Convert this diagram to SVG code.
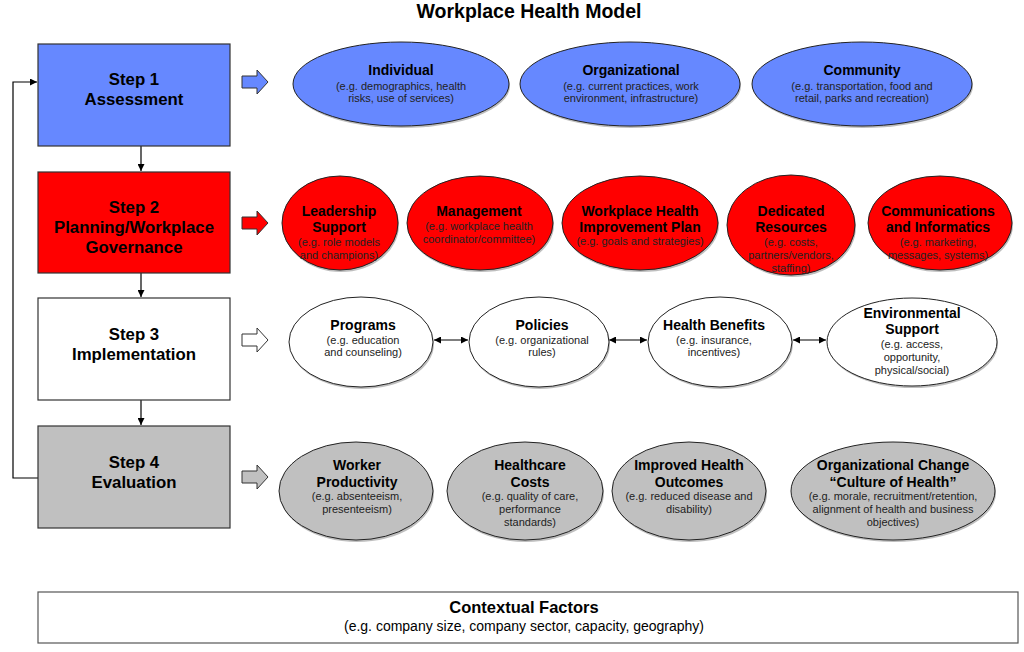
<svg xmlns="http://www.w3.org/2000/svg" width="1024" height="652" viewBox="0 0 1024 652">
<defs>
<marker id="ah" viewBox="0 0 10 10" refX="10" refY="5" markerWidth="7" markerHeight="7" orient="auto-start-reverse" markerUnits="userSpaceOnUse"><path d="M0,0 L10,5 L0,10 Z" fill="#000"/></marker>
</defs>
<style>
text{font-family:"Liberation Sans",Arial,sans-serif;text-anchor:middle;fill:#000}
.t{font-weight:bold;font-size:14px}
.s{font-size:11px;fill:#222}
.st{font-weight:bold;font-size:16.8px}
.box{stroke:#333;stroke-width:1.2}
.el{stroke:#222;stroke-width:1}
.sh{fill:#888;opacity:0.55}
.blue{fill:#6688FF}
.red{fill:#FF0000}
.white{fill:#FFFFFF}
.gray{fill:#C0C0C0}
.ba{stroke:#333;stroke-width:1}
.ln{stroke:#000;stroke-width:1.2;fill:none}
</style>
<rect width="1024" height="652" fill="#fff"/>
<text x="529" y="18" style="font-weight:bold;font-size:19.5px">Workplace Health Model</text>

<g id="connectors">
<line class="ln" x1="141" y1="146" x2="141" y2="171" marker-end="url(#ah)"/>
<line class="ln" x1="141" y1="273" x2="141" y2="297" marker-end="url(#ah)"/>
<line class="ln" x1="141" y1="400" x2="141" y2="425" marker-end="url(#ah)"/>
<polyline class="ln" points="38,478 13,478 13,82 37,82" marker-end="url(#ah)"/>
<line class="ln" x1="434" y1="340" x2="468" y2="340" marker-start="url(#ah)" marker-end="url(#ah)"/>
<line class="ln" x1="609" y1="340" x2="647" y2="340" marker-start="url(#ah)" marker-end="url(#ah)"/>
<line class="ln" x1="793" y1="340" x2="826" y2="340" marker-start="url(#ah)" marker-end="url(#ah)"/>
<path class="ba blue" d="M242,76 H257 V70 L268,82 L257,94 V88 H242 Z"/>
<path class="ba red" d="M242,217 H257 V211 L268,223 L257,235 V229 H242 Z"/>
<path class="ba white" d="M242,334 H257 V328 L268,340 L257,352 V346 H242 Z"/>
<path class="ba gray" d="M242,471 H257 V465 L268,477 L257,489 V483 H242 Z"/>
</g>

<g id="step1"><rect class="box blue" x="38" y="44" width="192" height="102"/>
<text class="st" x="134" y="85">Step 1</text><text class="st" x="134" y="105">Assessment</text></g>
<g id="step2"><rect class="box red" x="38" y="172" width="192" height="101"/>
<text class="st" x="134" y="213">Step 2</text><text class="st" x="134" y="233">Planning/Workplace</text><text class="st" x="134" y="253">Governance</text></g>
<g id="step3"><rect class="box white" x="38" y="298" width="192" height="102"/>
<text class="st" x="134" y="340">Step 3</text><text class="st" x="134" y="360">Implementation</text></g>
<g id="step4"><rect class="box gray" x="38" y="426" width="192" height="102"/>
<text class="st" x="134" y="468">Step 4</text><text class="st" x="134" y="488">Evaluation</text></g>

<g id="individual"><ellipse class="sh" cx="402" cy="86" rx="108" ry="42"/><ellipse class="el blue" cx="401" cy="84" rx="108" ry="42"/>
<text class="t" x="401" y="75">Individual</text><text class="s" x="401" y="90">(e.g. demographics, health</text><text class="s" x="401" y="102">risks, use of services)</text></g>
<g id="organizational"><ellipse class="sh" cx="631" cy="86" rx="110" ry="42"/><ellipse class="el blue" cx="630" cy="84" rx="110" ry="42"/>
<text class="t" x="631" y="75">Organizational</text><text class="s" x="631" y="90">(e.g. current practices, work</text><text class="s" x="631" y="102">environment, infrastructure)</text></g>
<g id="community"><ellipse class="sh" cx="863" cy="86" rx="110" ry="42"/><ellipse class="el blue" cx="862" cy="84" rx="110" ry="42"/>
<text class="t" x="862" y="75">Community</text><text class="s" x="862" y="90">(e.g. transportation, food and</text><text class="s" x="862" y="102">retail, parks and recreation)</text></g>

<g id="leadership"><ellipse class="sh" cx="341" cy="225" rx="58" ry="47"/><ellipse class="el red" cx="340" cy="223" rx="58" ry="47"/>
<text class="t" x="339" y="216">Leadership</text><text class="t" x="339" y="232">Support</text><text class="s" x="339" y="246">(e.g. role models</text><text class="s" x="339" y="259">and champions)</text></g>
<g id="management"><ellipse class="sh" cx="481" cy="225" rx="73" ry="47"/><ellipse class="el red" cx="480" cy="223" rx="73" ry="47"/>
<text class="t" x="479" y="216">Management</text><text class="s" x="479" y="230">(e.g. workplace health</text><text class="s" x="479" y="243">coordinator/committee)</text></g>
<g id="improvementplan"><ellipse class="sh" cx="641" cy="225" rx="78" ry="47"/><ellipse class="el red" cx="640" cy="223" rx="78" ry="47"/>
<text class="t" x="640" y="216">Workplace Health</text><text class="t" x="640" y="232">Improvement Plan</text><text class="s" x="640" y="245">(e.g. goals and strategies)</text></g>
<g id="resources"><ellipse class="sh" cx="792" cy="227" rx="64" ry="50"/><ellipse class="el red" cx="791" cy="225" rx="64" ry="50"/>
<text class="t" x="791" y="216">Dedicated</text><text class="t" x="791" y="232">Resources</text><text class="s" x="791" y="246">(e.g. costs,</text><text class="s" x="791" y="259">partners/vendors,</text><text class="s" x="791" y="272">staffing)</text></g>
<g id="communications"><ellipse class="sh" cx="941" cy="225" rx="72" ry="47"/><ellipse class="el red" cx="940" cy="223" rx="72" ry="47"/>
<text class="t" x="938" y="216">Communications</text><text class="t" x="938" y="232">and Informatics</text><text class="s" x="938" y="246">(e.g. marketing,</text><text class="s" x="938" y="259">messages, systems)</text></g>

<g id="programs"><ellipse class="sh" cx="362" cy="344" rx="72" ry="45"/><ellipse class="el white" cx="361" cy="342" rx="72" ry="45"/>
<text class="t" x="363" y="330">Programs</text><text class="s" x="363" y="344">(e.g. education</text><text class="s" x="363" y="356">and counseling)</text></g>
<g id="policies"><ellipse class="sh" cx="540" cy="344" rx="70" ry="45"/><ellipse class="el white" cx="539" cy="342" rx="70" ry="45"/>
<text class="t" x="542" y="330">Policies</text><text class="s" x="542" y="344">(e.g. organizational</text><text class="s" x="542" y="356">rules)</text></g>
<g id="benefits"><ellipse class="sh" cx="721" cy="344" rx="72" ry="45"/><ellipse class="el white" cx="720" cy="342" rx="72" ry="45"/>
<text class="t" x="714" y="330">Health Benefits</text><text class="s" x="714" y="344">(e.g. insurance,</text><text class="s" x="714" y="356">incentives)</text></g>
<g id="environmental"><ellipse class="sh" cx="913" cy="344" rx="85" ry="44"/><ellipse class="el white" cx="912" cy="342" rx="85" ry="44"/>
<text class="t" x="912" y="318">Environmental</text><text class="t" x="912" y="334">Support</text><text class="s" x="912" y="348">(e.g. access,</text><text class="s" x="912" y="361">opportunity,</text><text class="s" x="912" y="374">physical/social)</text></g>

<g id="productivity"><ellipse class="sh" cx="357" cy="493" rx="77" ry="49"/><ellipse class="el gray" cx="356" cy="491" rx="77" ry="49"/>
<text class="t" x="357" y="470">Worker</text><text class="t" x="357" y="487">Productivity</text><text class="s" x="357" y="500">(e.g. absenteeism,</text><text class="s" x="357" y="513">presenteeism)</text></g>
<g id="costs"><ellipse class="sh" cx="526" cy="493" rx="78" ry="49"/><ellipse class="el gray" cx="525" cy="491" rx="78" ry="49"/>
<text class="t" x="530" y="470">Healthcare</text><text class="t" x="530" y="487">Costs</text><text class="s" x="530" y="500">(e.g. quality of care,</text><text class="s" x="530" y="513">performance</text><text class="s" x="530" y="526">standards)</text></g>
<g id="outcomes"><ellipse class="sh" cx="690" cy="493" rx="77" ry="49"/><ellipse class="el gray" cx="689" cy="491" rx="77" ry="49"/>
<text class="t" x="689" y="470">Improved Health</text><text class="t" x="689" y="487">Outcomes</text><text class="s" x="689" y="500">(e.g. reduced disease and</text><text class="s" x="689" y="513">disability)</text></g>
<g id="culture"><ellipse class="sh" cx="894" cy="493" rx="102" ry="49"/><ellipse class="el gray" cx="893" cy="491" rx="102" ry="49"/>
<text class="t" x="893" y="470">Organizational Change</text><text class="t" x="893" y="487">“Culture of Health”</text><text class="s" x="893" y="500">(e.g. morale, recruitment/retention,</text><text class="s" x="893" y="513">alignment of health and business</text><text class="s" x="893" y="526">objectives)</text></g>

<g id="contextual"><rect x="38" y="592" width="980" height="51" fill="#fff" stroke="#555" stroke-width="1.2"/>
<text x="524" y="613" style="font-weight:bold;font-size:16.5px">Contextual Factors</text><text x="524" y="631" style="font-size:14px">(e.g. company size, company sector, capacity, geography)</text></g>
</svg>
